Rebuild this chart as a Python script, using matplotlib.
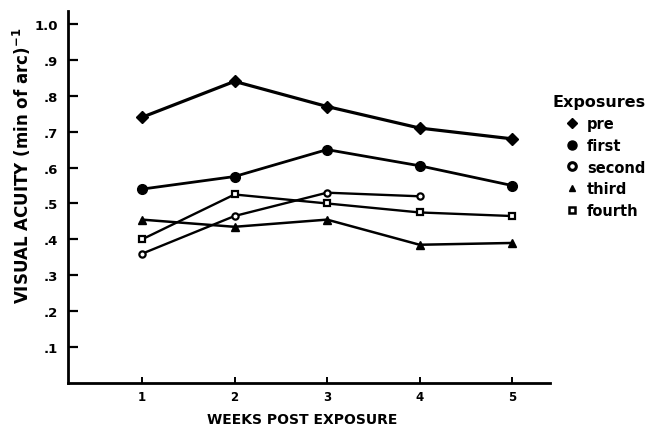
import matplotlib
matplotlib.use("Agg")
import matplotlib.pyplot as plt
from matplotlib.lines import Line2D

# visual acuity by week after exposure, one list per exposure
weeks = [1, 2, 3, 4, 5]
pre = [0.74, 0.84, 0.77, 0.71, 0.68]
first = [0.54, 0.575, 0.65, 0.605, 0.55]
second_weeks = [1, 2, 3, 4]
second = [0.36, 0.465, 0.53, 0.52]
third = [0.455, 0.435, 0.455, 0.385, 0.39]
fourth = [0.40, 0.525, 0.50, 0.475, 0.465]

ytick_vals = [0.1, 0.2, 0.3, 0.4, 0.5, 0.6, 0.7, 0.8, 0.9, 1.0]
ytick_text = [".1", ".2", ".3", ".4", ".5", ".6", ".7", ".8", ".9", "1.0"]

plt.rcParams['font.family'] = ['DejaVu Sans']
plt.rcParams['font.weight'] = 'bold'

fig = plt.figure(figsize=(6.55, 4.27), dpi=100)
ax = fig.add_axes([0.1038, 0.1007, 0.7359, 0.8712])

ax.plot(weeks, pre, color='black', lw=2.3, marker='D', ms=6.5)
ax.plot(weeks, first, color='black', lw=2.0, marker='o', ms=7)
ax.plot(second_weeks, second, color='black', lw=1.7, marker='o', ms=4.5,
        mfc='white', mec='black', mew=1.6)
ax.plot(weeks, third, color='black', lw=1.8, marker='^', ms=6)
ax.plot(weeks, fourth, color='black', lw=1.7, marker='s', ms=4.5,
        mfc='white', mec='black', mew=1.6)

ax.set_xlim(0.2, 5.41)
ax.set_ylim(0, 1.036)

for side in ['top', 'right']:
    ax.spines[side].set_visible(False)
for side in ['left', 'bottom']:
    ax.spines[side].set_linewidth(2.0)

ax.set_xticks(weeks)
ax.set_xticklabels([str(w) for w in weeks], fontsize=8.5, fontweight='bold')
ax.set_yticks(ytick_vals)
ax.set_yticklabels(ytick_text, fontsize=9.5, fontweight='bold')
ax.tick_params(axis='y', direction='in', length=7, width=1.6, pad=7)
ax.tick_params(axis='x', direction='in', length=4, width=1.4, pad=5)

ax.set_xlabel('WEEKS POST EXPOSURE', fontsize=10, fontweight='bold')
ax.xaxis.set_label_coords(0.485, -0.078)
ax.set_ylabel('VISUAL ACUITY (min of arc)$^{\\mathbf{-1}}$', fontsize=12,
              fontweight='bold')
ax.yaxis.set_label_coords(-0.073, 0.586)

handles = [
    Line2D([], [], ls='none', marker='D', ms=5, color='black'),
    Line2D([], [], ls='none', marker='o', ms=6.5, color='black'),
    Line2D([], [], ls='none', marker='o', ms=5.5, mfc='white', mec='black', mew=2.2),
    Line2D([], [], ls='none', marker='^', ms=5, color='black'),
    Line2D([], [], ls='none', marker='s', ms=4.5, mfc='white', mec='black', mew=1.8),
]
labels = ['pre', 'first', 'second', 'third', 'fourth']
leg = fig.legend(handles, labels, title='Exposures', loc='upper left',
                 bbox_to_anchor=(552 / 655, 1 - 95 / 427), frameon=False,
                 prop={'size': 10.5, 'weight': 'bold'},
                 title_fontproperties={'size': 11.5, 'weight': 'bold'},
                 handlelength=0.8, handletextpad=0.6, labelspacing=0.47,
                 borderpad=0, borderaxespad=0, alignment='right')

fig.savefig('out.png', dpi=100)
